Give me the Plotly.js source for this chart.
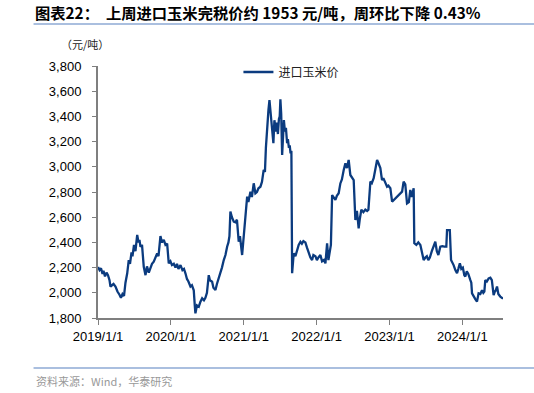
<!DOCTYPE html>
<html>
<head>
<meta charset="utf-8">
<script src="https://cdn.plot.ly/plotly-3.0.1.min.js"></script>
<style>
html,body{margin:0;padding:0;background:#fff;}
#chart{width:534px;height:393px;}
</style>
</head>
<body>
<div id="chart"></div>
<script>
// Time as decimal year
const t = [
2019.000,2019.021,2019.041,2019.062,2019.075,2019.096,2019.117,2019.137,2019.158,2019.171,
2019.192,2019.213,2019.240,2019.267,2019.295,2019.315,2019.336,2019.357,2019.377,2019.401,
2019.422,2019.439,2019.460,2019.473,2019.494,2019.514,2019.538,2019.556,2019.569,2019.583,
2019.604,2019.628,2019.652,2019.672,2019.697,2019.720,2019.741,2019.765,2019.789,2019.812,
2019.830,2019.857,2019.878,2019.903,2019.926,2019.949,2019.971,2019.994,2020.015,2020.040,
2020.063,2020.084,2020.104,2020.132,2020.159,2020.180,2020.200,2020.221,2020.241,2020.269,
2020.289,2020.314,2020.328,2020.337,2020.358,2020.383,2020.406,2020.429,2020.454,2020.474,
2020.495,2020.520,2020.536,2020.566,2020.584,2020.612,2020.632,2020.657,2020.680,2020.701,
2020.726,2020.749,2020.772,2020.790,2020.804,2020.817,2020.838,2020.863,2020.886,2020.907,
2020.931,2020.948,2020.978,2020.996,2021.010,2021.030,2021.047,2021.064,2021.092,2021.112,
2021.137,2021.160,2021.181,2021.202,2021.229,2021.250,2021.274,2021.291,2021.304,2021.321,
2021.339,2021.353,2021.366,2021.390,2021.407,2021.421,2021.442,2021.455,2021.469,2021.483,
2021.494,2021.503,2021.514,2021.527,2021.538,2021.551,2021.565,2021.579,2021.595,2021.606,
2021.620,2021.631,2021.640,2021.654,2021.664,2021.686,2021.709,2021.730,2021.754,2021.778,
2021.798,2021.819,2021.846,2021.867,2021.891,2021.915,2021.938,2021.956,2021.984,2022.004,
2022.025,2022.052,2022.075,2022.100,2022.121,2022.144,2022.162,2022.182,2022.196,2022.213,
2022.237,2022.258,2022.278,2022.303,2022.326,2022.347,2022.372,2022.395,2022.416,2022.440,
2022.463,2022.484,2022.509,2022.532,2022.553,2022.566,2022.577,2022.594,2022.614,2022.642,
2022.669,2022.693,2022.711,2022.738,2022.758,2022.783,2022.807,2022.830,2022.848,2022.861,
2022.875,2022.889,2022.898,2022.916,2022.944,2022.967,2022.985,2023.012,2023.036,2023.173,
2023.194,2023.217,2023.241,2023.266,2023.286,2023.307,2023.332,2023.341,2023.369,2023.396,
2023.424,2023.447,2023.469,2023.492,2023.513,2023.533,2023.554,2023.581,2023.606,2023.629,
2023.650,2023.671,2023.698,2023.725,2023.753,2023.780,2023.790,2023.828,2023.845,2023.863,
2023.880,2023.904,2023.927,2023.945,2023.966,2023.986,2024.007,2024.027,2024.041,2024.061,
2024.082,2024.110,2024.123,2024.133,2024.155,2024.178,2024.201,2024.223,2024.247,2024.270,
2024.288,2024.302,2024.315,2024.336,2024.361,2024.384,2024.405,2024.418,2024.429,2024.446,
2024.459,2024.476,2024.494,2024.521,2024.542,2024.558
];
// 进口玉米价 (元/吨)
const price = [
2205,2180,2195,2150,2175,2130,2160,2140,2100,2050,
2060,2070,2050,2010,1985,1960,1990,1975,2080,2155,
2260,2230,2320,2290,2380,2330,2460,2400,2420,2365,
2380,2207,2140,2210,2160,2200,2230,2247,2280,2313,
2290,2450,2400,2420,2380,2390,2234,2250,2220,2230,
2200,2230,2190,2220,2180,2190,2155,2110,2090,2050,
2060,2020,1900,1837,1900,1890,1930,1956,1940,1960,
2000,2140,2100,2088,2040,2022,2070,2115,2170,2200,
2260,2300,2366,2400,2450,2644,2600,2565,2560,2580,
2405,2450,2300,2450,2550,2650,2763,2720,2802,2760,
2869,2790,2800,2830,2842,2880,2975,2960,3150,3318,
3450,3530,3450,3318,3187,3370,3280,3350,3260,3380,
3400,3535,3420,3094,3300,3370,3280,3310,3187,3220,
3150,3170,3120,3125,2155,2313,2290,2330,2380,2405,
2390,2410,2400,2360,2313,2280,2260,2300,2290,2260,
2280,2300,2250,2260,2234,2393,2260,2330,2380,2776,
2760,2737,2770,2790,2868,2900,2975,3028,2990,3054,
2935,2920,2895,2578,2650,2580,2512,2590,2660,2640,
2660,2650,2660,2882,2870,2910,3000,3054,3030,3000,
2990,2930,2895,2910,2870,2842,2850,2830,2723,2803,
2882,2860,2710,2720,2816,2760,2830,2393,2380,2400,
2380,2313,2260,2280,2290,2260,2280,2330,2366,2405,
2330,2300,2366,2370,2366,2366,2498,2498,2260,2240,
2220,2180,2155,2190,2235,2190,2200,2140,2130,2170,
2150,2100,2080,1996,1970,1950,1930,1996,1990,2020,
2000,2010,2100,2090,2115,2120,2100,2050,1982,2010,
2020,2050,1990,1970,1960,1953
];
const seriesName = '进口玉米价';
const xTickVals = [2019,2020,2021,2022,2023,2024];
const xTickText = ['2019/1/1','2020/1/1','2021/1/1','2022/1/1','2023/1/1','2024/1/1'];
const yTickVals = [1800,2000,2200,2400,2600,2800,3000,3200,3400,3600,3800];

const titleText = '图表22：  上周进口玉米完税价约 1953 元/吨，周环比下降 0.43%';
const unitText = '（元/吨）';
const sourceText = '资料来源：Wind，华泰研究';

const W = 534, H = 393;
const L = 97.5, R = 502.7, T = 66, B = 318;
const pw = R - L, ph = B - T;
const px = x => (x - L) / pw;
const py = y => (B - y) / ph;

const trace = {
  x: t, y: price, type: 'scatter', mode: 'lines', name: seriesName,
  line: {color: '#0b3b7f', width: 2.3}
};

const layout = {
  width: W, height: H,
  margin: {l: L, r: W - R, t: T, b: H - B, pad: 0},
  paper_bgcolor: '#fff', plot_bgcolor: '#fff',
  font: {family: 'Liberation Sans, Arial, sans-serif', size: 13, color: '#000'},
  showlegend: true,
  legend: {x: px(238), y: py(72), xanchor: 'left', yanchor: 'middle', orientation: 'h',
           font: {family: 'Noto Sans CJK SC', size: 12, color: '#222'}, bgcolor: 'rgba(0,0,0,0)',
           itemwidth: 30},
  xaxis: {
    type: 'linear', range: [2019, 2024.558],
    tickvals: xTickVals, ticktext: xTickText,
    showgrid: false, zeroline: false,
    showline: true, linecolor: '#7f7f7f', linewidth: 2,
    ticks: 'outside', ticklen: 5, tickwidth: 1, tickcolor: '#7f7f7f',
    ticklabelstandoff: 0,
    tickfont: {family: 'Liberation Sans, Arial, sans-serif', size: 13, color: '#000'}
  },
  yaxis: {
    range: [1800, 3800], tickvals: yTickVals, tickformat: ',d',
    showgrid: false, zeroline: false,
    showline: true, linecolor: '#7f7f7f', linewidth: 2,
    ticks: 'outside', ticklen: 4, tickwidth: 1, tickcolor: '#7f7f7f',
    ticklabelstandoff: 8,
    tickfont: {family: 'Liberation Sans, Arial, sans-serif', size: 13, color: '#000'}
  },
  shapes: [
    {type: 'line', xref: 'paper', yref: 'paper', x0: px(33), x1: px(534), y0: py(24), y1: py(24),
     line: {color: '#8eaad4', width: 1.5}},
    {type: 'line', xref: 'paper', yref: 'paper', x0: px(33), x1: px(534), y0: py(368), y1: py(368),
     line: {color: '#8eaad4', width: 1.5}}
  ],
  annotations: [
    {xref: 'paper', yref: 'paper', x: px(32), y: py(12), xanchor: 'left', yanchor: 'middle',
     text: '<b>' + titleText + '</b>', showarrow: false,
     font: {family: 'Noto Sans CJK SC, Liberation Sans', size: 15.3, color: '#000'}},
    {xref: 'paper', yref: 'paper', x: px(58), y: py(44), xanchor: 'left', yanchor: 'middle',
     text: unitText, showarrow: false,
     font: {family: 'Noto Sans CJK SC', size: 11, color: '#222'}},
    {xref: 'paper', yref: 'paper', x: px(33), y: py(381), xanchor: 'left', yanchor: 'middle',
     text: sourceText, showarrow: false,
     font: {family: 'Noto Sans CJK SC', size: 11, color: '#999'}}
  ]
};

Plotly.newPlot('chart', [trace], layout, {displayModeBar: false, staticPlot: true});
</script>
</body>
</html>
